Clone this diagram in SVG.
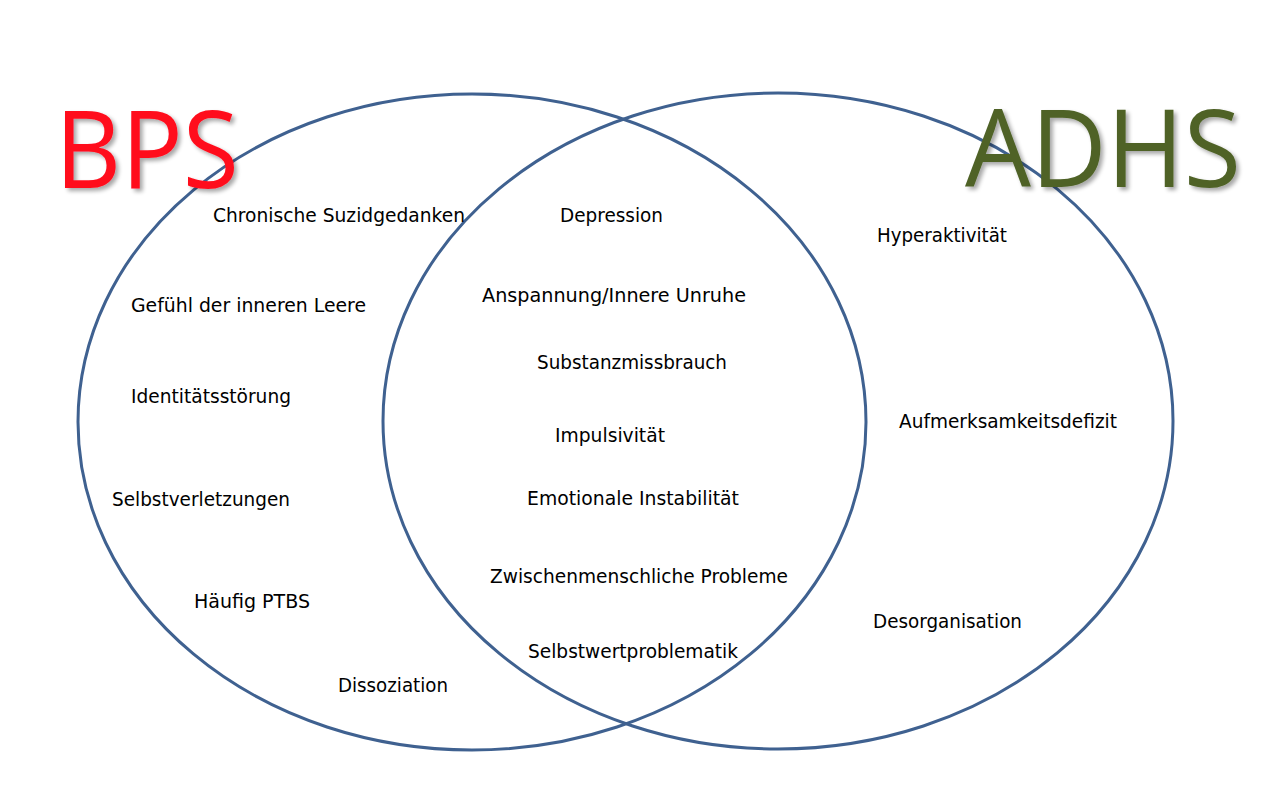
<svg xmlns="http://www.w3.org/2000/svg" width="1280" height="798" viewBox="0 0 1280 798">
<defs>
<style>
.c{fill:none;stroke:#3f6190;stroke-width:3}
.t{font-family:"DejaVu Sans","Liberation Sans",sans-serif;font-size:19px;fill:#000}
.h{font-family:"Open Sans","Liberation Sans",sans-serif;font-size:108px}
</style>
<filter id="sh" x="-10%" y="-10%" width="130%" height="130%">
<feGaussianBlur in="SourceAlpha" stdDeviation="2"/>
<feOffset dx="3" dy="3" result="b"/>
<feComponentTransfer><feFuncA type="linear" slope="0.35"/></feComponentTransfer>
<feMerge><feMergeNode/><feMergeNode in="SourceGraphic"/></feMerge>
</filter>
</defs>
<rect width="1280" height="798" fill="#fff"/>
<g id="connectors"></g>
<g id="circle-bps"><ellipse class="c" cx="472" cy="422" rx="394" ry="328"/></g>
<g id="circle-adhs"><ellipse class="c" cx="778" cy="421" rx="395" ry="328"/></g>
<g id="title-bps"><text class="h" x="55" y="188" fill="#ff0d1f" textLength="184" lengthAdjust="spacingAndGlyphs" filter="url(#sh)">BPS</text></g>
<g id="title-adhs"><text class="h" x="965" y="187" fill="#4f6228" textLength="276" lengthAdjust="spacingAndGlyphs" filter="url(#sh)">ADHS</text></g>
<g id="bps-items">
<text class="t" x="213" y="222" textLength="252" lengthAdjust="spacingAndGlyphs">Chronische Suzidgedanken</text>
<text class="t" x="131" y="312" textLength="235" lengthAdjust="spacingAndGlyphs">Gefühl der inneren Leere</text>
<text class="t" x="131" y="403" textLength="160" lengthAdjust="spacingAndGlyphs">Identitätsstörung</text>
<text class="t" x="112" y="506" textLength="178" lengthAdjust="spacingAndGlyphs">Selbstverletzungen</text>
<text class="t" x="194" y="608" textLength="116" lengthAdjust="spacingAndGlyphs">Häufig PTBS</text>
<text class="t" x="338" y="692" textLength="110" lengthAdjust="spacingAndGlyphs">Dissoziation</text>
</g>
<g id="shared-items">
<text class="t" x="560" y="222" textLength="103" lengthAdjust="spacingAndGlyphs">Depression</text>
<text class="t" x="482" y="302" textLength="264" lengthAdjust="spacingAndGlyphs">Anspannung/Innere Unruhe</text>
<text class="t" x="537" y="369" textLength="190" lengthAdjust="spacingAndGlyphs">Substanzmissbrauch</text>
<text class="t" x="555" y="442" textLength="110" lengthAdjust="spacingAndGlyphs">Impulsivität</text>
<text class="t" x="527" y="505" textLength="212" lengthAdjust="spacingAndGlyphs">Emotionale Instabilität</text>
<text class="t" x="490" y="583" textLength="298" lengthAdjust="spacingAndGlyphs">Zwischenmenschliche Probleme</text>
<text class="t" x="528" y="658" textLength="210" lengthAdjust="spacingAndGlyphs">Selbstwertproblematik</text>
</g>
<g id="adhs-items">
<text class="t" x="877" y="242" textLength="130" lengthAdjust="spacingAndGlyphs">Hyperaktivität</text>
<text class="t" x="899" y="428" textLength="218" lengthAdjust="spacingAndGlyphs">Aufmerksamkeitsdefizit</text>
<text class="t" x="873" y="628" textLength="149" lengthAdjust="spacingAndGlyphs">Desorganisation</text>
</g>
</svg>
